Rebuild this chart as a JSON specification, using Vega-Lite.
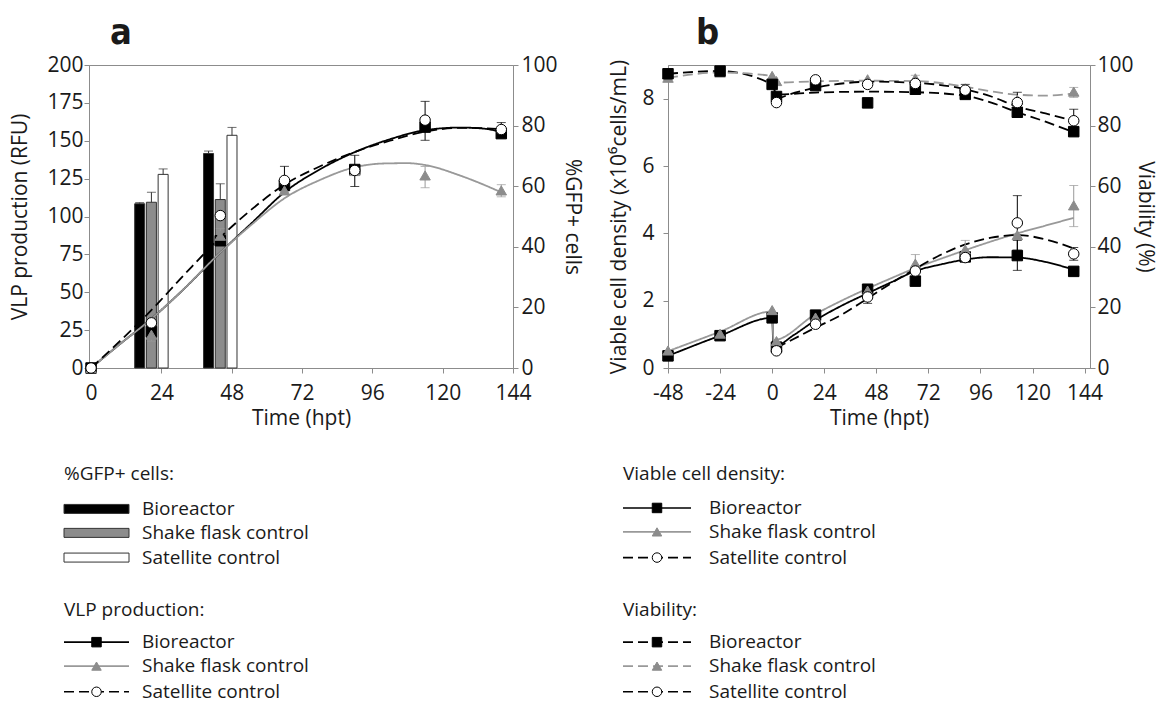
{
"$schema": "https://vega.github.io/schema/vega-lite/v6.json",
"background": "white",
"padding": {"left": 9, "top": 14, "right": 0, "bottom": 0},
"config": {
 "font": "Open Sans",
 "view": {"stroke": "#8c8c8c"},
 "axis": {"grid": false, "domainColor": "#8c8c8c", "tickColor": "#8c8c8c", "tickSize": 5, "labelFontSize": 21, "titleFontSize": 21, "labelColor": "#1a1a1a", "titleColor": "#1a1a1a", "titleFontWeight": "normal", "labelFont": "Open Sans", "titleFont": "Open Sans", "labelFlush": false, "labelOverlap": false},
 "legend": {"disable": true},
 "text": {"font": "Open Sans", "color": "#1a1a1a", "fontSize": 19}
},
"datasets": {
 "gfp": [
  {"series": "Bioreactor", "t": 16.6, "v": 54.2, "hi": 54.6},
  {"series": "Shake flask control", "t": 20.6, "v": 54.7, "hi": 58},
  {"series": "Satellite control", "t": 24.6, "v": 63.9, "hi": 65.7},
  {"series": "Bioreactor", "t": 40.1, "v": 70.8, "hi": 71.6},
  {"series": "Shake flask control", "t": 44.1, "v": 55.6, "hi": 60.8},
  {"series": "Satellite control", "t": 48.1, "v": 76.8, "hi": 79.4}
 ],
 "vlpCurve": [
  {"series": "Bioreactor", "t": 0, "v": 0}, {"series": "Bioreactor", "t": 10, "v": 16}, {"series": "Bioreactor", "t": 20, "v": 31.5}, {"series": "Bioreactor", "t": 30, "v": 49}, {"series": "Bioreactor", "t": 44, "v": 76}, {"series": "Bioreactor", "t": 55, "v": 96}, {"series": "Bioreactor", "t": 66, "v": 116}, {"series": "Bioreactor", "t": 78, "v": 131}, {"series": "Bioreactor", "t": 90, "v": 142.5}, {"series": "Bioreactor", "t": 102, "v": 151}, {"series": "Bioreactor", "t": 114, "v": 157}, {"series": "Bioreactor", "t": 126, "v": 158.7}, {"series": "Bioreactor", "t": 134, "v": 158}, {"series": "Bioreactor", "t": 140.5, "v": 155.5},
  {"series": "Shake flask control", "t": 0, "v": 0}, {"series": "Shake flask control", "t": 10, "v": 16}, {"series": "Shake flask control", "t": 20, "v": 31.5}, {"series": "Shake flask control", "t": 30, "v": 49}, {"series": "Shake flask control", "t": 44, "v": 76}, {"series": "Shake flask control", "t": 55, "v": 95}, {"series": "Shake flask control", "t": 66, "v": 112}, {"series": "Shake flask control", "t": 78, "v": 124}, {"series": "Shake flask control", "t": 90, "v": 132.5}, {"series": "Shake flask control", "t": 100, "v": 135}, {"series": "Shake flask control", "t": 108, "v": 135.2}, {"series": "Shake flask control", "t": 114, "v": 134}, {"series": "Shake flask control", "t": 126, "v": 127}, {"series": "Shake flask control", "t": 134, "v": 121}, {"series": "Shake flask control", "t": 140.5, "v": 115.5},
  {"series": "Satellite control", "t": 0, "v": 0}, {"series": "Satellite control", "t": 10, "v": 18}, {"series": "Satellite control", "t": 20, "v": 37}, {"series": "Satellite control", "t": 32, "v": 62}, {"series": "Satellite control", "t": 44, "v": 86}, {"series": "Satellite control", "t": 55, "v": 105}, {"series": "Satellite control", "t": 66, "v": 121}, {"series": "Satellite control", "t": 78, "v": 133}, {"series": "Satellite control", "t": 90, "v": 142.6}, {"series": "Satellite control", "t": 102, "v": 150}, {"series": "Satellite control", "t": 114, "v": 156}, {"series": "Satellite control", "t": 126, "v": 158.5}, {"series": "Satellite control", "t": 134, "v": 158.3}, {"series": "Satellite control", "t": 140.5, "v": 157.5}
 ],
 "vlpPts": [
  {"series": "Bioreactor", "t": 0, "v": 0}, {"series": "Bioreactor", "t": 20.6, "v": 24}, {"series": "Bioreactor", "t": 44.1, "v": 84}, {"series": "Bioreactor", "t": 66, "v": 120.5}, {"series": "Bioreactor", "t": 90, "v": 131}, {"series": "Bioreactor", "t": 114, "v": 159}, {"series": "Bioreactor", "t": 140, "v": 154.7},
  {"series": "Shake flask control", "t": 0, "v": 0}, {"series": "Shake flask control", "t": 20.6, "v": 22, "lo": 17.7, "hi": 26.5}, {"series": "Shake flask control", "t": 44.1, "v": 87.3, "lo": 81, "hi": 92}, {"series": "Shake flask control", "t": 66, "v": 117.2}, {"series": "Shake flask control", "t": 90, "v": 130}, {"series": "Shake flask control", "t": 114, "v": 127.1, "lo": 119, "hi": 133}, {"series": "Shake flask control", "t": 140, "v": 117.2, "lo": 113, "hi": 121},
  {"series": "Satellite control", "t": 0, "v": 0}, {"series": "Satellite control", "t": 20.6, "v": 29.8}, {"series": "Satellite control", "t": 44.1, "v": 100.6}, {"series": "Satellite control", "t": 66, "v": 123.8, "lo": 117, "hi": 133.1}, {"series": "Satellite control", "t": 90, "v": 130.4, "lo": 119.8, "hi": 140.4}, {"series": "Satellite control", "t": 114, "v": 163.6, "lo": 150.3, "hi": 176}, {"series": "Satellite control", "t": 140, "v": 157.4, "lo": 152.5, "hi": 162}
 ],
 "vcdLine": [
  {"series": "Bioreactor", "t": -48, "v": 0.36}, {"series": "Bioreactor", "t": -24, "v": 0.96}, {"series": "Bioreactor", "t": 0, "v": 1.49}, {"series": "Bioreactor", "t": 0.6, "v": 0.63}, {"series": "Bioreactor", "t": 10, "v": 0.98}, {"series": "Bioreactor", "t": 20, "v": 1.42}, {"series": "Bioreactor", "t": 32, "v": 1.85}, {"series": "Bioreactor", "t": 44, "v": 2.22}, {"series": "Bioreactor", "t": 55, "v": 2.55}, {"series": "Bioreactor", "t": 66, "v": 2.88}, {"series": "Bioreactor", "t": 78, "v": 3.08}, {"series": "Bioreactor", "t": 89, "v": 3.22}, {"series": "Bioreactor", "t": 100, "v": 3.29}, {"series": "Bioreactor", "t": 113, "v": 3.28}, {"series": "Bioreactor", "t": 126, "v": 3.15}, {"series": "Bioreactor", "t": 139, "v": 2.92},
  {"series": "Shake flask control", "t": -48, "v": 0.5}, {"series": "Shake flask control", "t": -24, "v": 1.08}, {"series": "Shake flask control", "t": 0, "v": 1.68}, {"series": "Shake flask control", "t": 0.6, "v": 0.83}, {"series": "Shake flask control", "t": 20, "v": 1.6}, {"series": "Shake flask control", "t": 32, "v": 2.0}, {"series": "Shake flask control", "t": 44, "v": 2.36}, {"series": "Shake flask control", "t": 55, "v": 2.67}, {"series": "Shake flask control", "t": 66, "v": 2.97}, {"series": "Shake flask control", "t": 78, "v": 3.25}, {"series": "Shake flask control", "t": 89, "v": 3.5}, {"series": "Shake flask control", "t": 101, "v": 3.76}, {"series": "Shake flask control", "t": 113, "v": 4.0}, {"series": "Shake flask control", "t": 126, "v": 4.23}, {"series": "Shake flask control", "t": 139, "v": 4.46},
  {"series": "Satellite control", "t": 2, "v": 0.6}, {"series": "Satellite control", "t": 9, "v": 0.83}, {"series": "Satellite control", "t": 20, "v": 1.2}, {"series": "Satellite control", "t": 32, "v": 1.58}, {"series": "Satellite control", "t": 40, "v": 1.9}, {"series": "Satellite control", "t": 52, "v": 2.4}, {"series": "Satellite control", "t": 66, "v": 2.95}, {"series": "Satellite control", "t": 78, "v": 3.37}, {"series": "Satellite control", "t": 89, "v": 3.67}, {"series": "Satellite control", "t": 101, "v": 3.87}, {"series": "Satellite control", "t": 113, "v": 3.95}, {"series": "Satellite control", "t": 126, "v": 3.82}, {"series": "Satellite control", "t": 139, "v": 3.55}
 ],
 "vcdPts": [
  {"series": "Bioreactor", "t": -48, "v": 0.36}, {"series": "Bioreactor", "t": -24, "v": 0.96}, {"series": "Bioreactor", "t": 0, "v": 1.49}, {"series": "Bioreactor", "t": 2, "v": 0.62}, {"series": "Bioreactor", "t": 20, "v": 1.57}, {"series": "Bioreactor", "t": 44, "v": 2.34}, {"series": "Bioreactor", "t": 66, "v": 2.58}, {"series": "Bioreactor", "t": 89, "v": 3.3}, {"series": "Bioreactor", "t": 113, "v": 3.34, "lo": 2.9, "hi": 3.79}, {"series": "Bioreactor", "t": 139, "v": 2.87},
  {"series": "Shake flask control", "t": -48, "v": 0.52}, {"series": "Shake flask control", "t": -24, "v": 1.02}, {"series": "Shake flask control", "t": 0, "v": 1.72}, {"series": "Shake flask control", "t": 2, "v": 0.8}, {"series": "Shake flask control", "t": 20, "v": 1.5}, {"series": "Shake flask control", "t": 44, "v": 2.3}, {"series": "Shake flask control", "t": 66, "v": 3.1, "lo": 2.83, "hi": 3.37}, {"series": "Shake flask control", "t": 89, "v": 3.52, "lo": 3.25, "hi": 3.79}, {"series": "Shake flask control", "t": 113, "v": 3.95}, {"series": "Shake flask control", "t": 139, "v": 4.83, "lo": 4.2, "hi": 5.42},
  {"series": "Satellite control", "t": 2, "v": 0.51}, {"series": "Satellite control", "t": 20, "v": 1.3}, {"series": "Satellite control", "t": 44, "v": 2.11, "lo": 1.92, "hi": 2.3}, {"series": "Satellite control", "t": 66, "v": 2.88}, {"series": "Satellite control", "t": 89, "v": 3.28, "lo": 3.18, "hi": 3.38}, {"series": "Satellite control", "t": 113, "v": 4.31, "lo": 3.5, "hi": 5.12}, {"series": "Satellite control", "t": 139, "v": 3.39, "lo": 3.2, "hi": 3.58}
 ],
 "viaLine": [
  {"series": "Bioreactor", "t": -48, "v": 97.1}, {"series": "Bioreactor", "t": -24, "v": 98.0}, {"series": "Bioreactor", "t": 0, "v": 93.6}, {"series": "Bioreactor", "t": 2, "v": 90.3}, {"series": "Bioreactor", "t": 20, "v": 90.9}, {"series": "Bioreactor", "t": 44, "v": 91.2}, {"series": "Bioreactor", "t": 66, "v": 91.0}, {"series": "Bioreactor", "t": 89, "v": 89.9}, {"series": "Bioreactor", "t": 101, "v": 87.6}, {"series": "Bioreactor", "t": 113, "v": 84.4}, {"series": "Bioreactor", "t": 126, "v": 81.3}, {"series": "Bioreactor", "t": 139, "v": 77.8},
  {"series": "Shake flask control", "t": -48, "v": 95.8}, {"series": "Shake flask control", "t": -24, "v": 97.5}, {"series": "Shake flask control", "t": 0, "v": 96.4}, {"series": "Shake flask control", "t": 2, "v": 94.2}, {"series": "Shake flask control", "t": 20, "v": 94.6}, {"series": "Shake flask control", "t": 44, "v": 94.8}, {"series": "Shake flask control", "t": 66, "v": 94.7}, {"series": "Shake flask control", "t": 89, "v": 92.8}, {"series": "Shake flask control", "t": 101, "v": 91.3}, {"series": "Shake flask control", "t": 113, "v": 90.2}, {"series": "Shake flask control", "t": 126, "v": 89.9}, {"series": "Shake flask control", "t": 139, "v": 90.6},
  {"series": "Satellite control", "t": 2, "v": 88.6}, {"series": "Satellite control", "t": 8, "v": 90.3}, {"series": "Satellite control", "t": 17, "v": 92}, {"series": "Satellite control", "t": 29, "v": 93.6}, {"series": "Satellite control", "t": 46, "v": 94.5}, {"series": "Satellite control", "t": 64, "v": 94.2}, {"series": "Satellite control", "t": 89, "v": 92.0}, {"series": "Satellite control", "t": 101, "v": 89.6}, {"series": "Satellite control", "t": 113, "v": 86.3}, {"series": "Satellite control", "t": 126, "v": 84.0}, {"series": "Satellite control", "t": 139, "v": 81.6}
 ],
 "viaPts": [
  {"series": "Shake flask control", "t": -48, "v": 95.8}, {"series": "Shake flask control", "t": -24, "v": 97.5}, {"series": "Shake flask control", "t": 0, "v": 96.4}, {"series": "Shake flask control", "t": 2, "v": 94.7}, {"series": "Shake flask control", "t": 20, "v": 95.0}, {"series": "Shake flask control", "t": 44, "v": 95.3}, {"series": "Shake flask control", "t": 66, "v": 95.6, "lo": 94.5, "hi": 96.6}, {"series": "Shake flask control", "t": 89, "v": 92.3}, {"series": "Shake flask control", "t": 113, "v": 88.5}, {"series": "Shake flask control", "t": 139, "v": 91.2, "lo": 89.3, "hi": 92.6},
  {"series": "Bioreactor", "t": -48, "v": 97.1}, {"series": "Bioreactor", "t": -24, "v": 98.0}, {"series": "Bioreactor", "t": 0, "v": 93.6}, {"series": "Bioreactor", "t": 2, "v": 89.6}, {"series": "Bioreactor", "t": 20, "v": 93.2}, {"series": "Bioreactor", "t": 44, "v": 87.5}, {"series": "Bioreactor", "t": 66, "v": 92.0}, {"series": "Bioreactor", "t": 89, "v": 90.3}, {"series": "Bioreactor", "t": 113, "v": 84.4}, {"series": "Bioreactor", "t": 139, "v": 78.0},
  {"series": "Satellite control", "t": 2, "v": 87.6}, {"series": "Satellite control", "t": 20, "v": 95.1}, {"series": "Satellite control", "t": 44, "v": 93.6}, {"series": "Satellite control", "t": 66, "v": 93.9}, {"series": "Satellite control", "t": 89, "v": 91.7, "lo": 90.0, "hi": 93.6}, {"series": "Satellite control", "t": 113, "v": 87.6, "lo": 84.2, "hi": 91.0}, {"series": "Satellite control", "t": 139, "v": 81.6, "lo": 77.8, "hi": 85.4}
 ],
 "legA": [
  {"row": 0, "label": "%GFP+ cells:", "kind": "head"},
  {"row": 1.42, "label": "Bioreactor", "kind": "bar", "series": "Bioreactor"},
  {"row": 2.4, "label": "Shake flask control", "kind": "bar", "series": "Shake flask control"},
  {"row": 3.41, "label": "Satellite control", "kind": "bar", "series": "Satellite control"},
  {"row": 5.57, "label": "VLP production:", "kind": "head"},
  {"row": 6.87, "label": "Bioreactor", "kind": "line", "series": "Bioreactor"},
  {"row": 7.85, "label": "Shake flask control", "kind": "line", "series": "Shake flask control"},
  {"row": 8.9, "label": "Satellite control", "kind": "line", "series": "Satellite control"}
 ],
 "legB": [
  {"row": 0, "label": "Viable cell density:", "kind": "head"},
  {"row": 1.38, "label": "Bioreactor", "kind": "vcd", "series": "Bioreactor"},
  {"row": 2.36, "label": "Shake flask control", "kind": "vcd", "series": "Shake flask control"},
  {"row": 3.41, "label": "Satellite control", "kind": "vcd", "series": "Satellite control"},
  {"row": 5.57, "label": "Viability:", "kind": "head"},
  {"row": 6.87, "label": "Bioreactor", "kind": "via", "series": "Bioreactor"},
  {"row": 7.85, "label": "Shake flask control", "kind": "via", "series": "Shake flask control"},
  {"row": 8.9, "label": "Satellite control", "kind": "via", "series": "Satellite control"}
 ]
},
"spacing": 25,
"hconcat": [
 {"spacing": 33, "vconcat": [
  {
   "width": 424, "height": 303,
   "title": {"text": "a", "anchor": "start", "frame": "group", "dx": 21, "offset": 2, "fontSize": 36, "fontWeight": "bold", "font": "DejaVu Sans Condensed, Liberation Sans Narrow, sans-serif", "color": "#1a1a1a"},
   "encoding": {"x": {"field": "t", "type": "quantitative", "scale": {"domain": [-0.7, 144], "nice": false, "zero": false, "padding": 0}, "title": "Time (hpt)", "axis": {"values": [0, 24, 48, 72, 96, 120, 144], "labelPadding": 9, "titlePadding": 4}}},
   "resolve": {"scale": {"y": "independent"}},
   "layer": [
    {"data": {"name": "gfp"},
     "layer": [
      {"mark": {"type": "bar", "width": 10, "stroke": "#333333", "strokeWidth": 1},
       "encoding": {"y": {"field": "v", "type": "quantitative", "scale": {"domain": [0, 100], "nice": false}, "title": "%GFP+ cells", "axis": {"orient": "right", "values": [0, 20, 40, 60, 80, 100], "titlePadding": 4, "labelPadding": 3}},
        "fill": {"field": "series", "type": "nominal", "scale": {"domain": ["Bioreactor", "Shake flask control", "Satellite control"], "range": ["#000000", "#8c8c8c", "#ffffff"]}, "legend": null}}},
      {"mark": {"type": "rule", "color": "#333333", "strokeWidth": 1},
       "encoding": {"y": {"field": "v", "type": "quantitative", "scale": {"domain": [0, 100], "nice": false}, "title": "%GFP+ cells", "axis": {"orient": "right", "values": [0, 20, 40, 60, 80, 100], "titlePadding": 4, "labelPadding": 3}}, "y2": {"field": "hi"}}},
      {"mark": {"type": "tick", "orient": "horizontal", "size": 9, "thickness": 1, "color": "#333333"},
       "encoding": {"y": {"field": "hi", "type": "quantitative", "scale": {"domain": [0, 100], "nice": false}, "title": "%GFP+ cells", "axis": {"orient": "right", "values": [0, 20, 40, 60, 80, 100], "titlePadding": 4, "labelPadding": 3}}}}
     ]},
    {"layer": [
      {"data": {"name": "vlpCurve"},
       "mark": {"type": "line", "interpolate": "monotone", "strokeWidth": 1.8},
       "encoding": {"y": {"field": "v", "type": "quantitative", "scale": {"domain": [0, 200], "nice": false}, "title": "VLP production (RFU)", "axis": {"orient": "left", "values": [0, 25, 50, 75, 100, 125, 150, 175, 200], "titlePadding": 16, "labelPadding": 1}},
        "color": {"field": "series", "type": "nominal", "scale": {"domain": ["Bioreactor", "Shake flask control", "Satellite control"], "range": ["#000000", "#999999", "#000000"]}, "legend": null},
        "strokeDash": {"field": "series", "type": "nominal", "scale": {"domain": ["Bioreactor", "Shake flask control", "Satellite control"], "range": [[1, 0], [1, 0], [10, 5]]}, "legend": null}}},
      {"data": {"name": "vlpPts"}, "transform": [{"filter": "isValid(datum.hi)"}],
       "mark": {"type": "rule", "strokeWidth": 1},
       "encoding": {"y": {"field": "lo", "type": "quantitative", "scale": {"domain": [0, 200], "nice": false}, "title": "VLP production (RFU)", "axis": {"orient": "left", "values": [0, 25, 50, 75, 100, 125, 150, 175, 200], "titlePadding": 16, "labelPadding": 1}}, "y2": {"field": "hi"},
        "color": {"field": "series", "type": "nominal", "scale": {"domain": ["Bioreactor", "Shake flask control", "Satellite control"], "range": ["#000000", "#999999", "#000000"]}, "legend": null}}},
      {"data": {"name": "vlpPts"}, "transform": [{"filter": "isValid(datum.hi)"}],
       "mark": {"type": "tick", "orient": "horizontal", "size": 9, "thickness": 1},
       "encoding": {"y": {"field": "hi", "type": "quantitative", "scale": {"domain": [0, 200], "nice": false}, "title": "VLP production (RFU)", "axis": {"orient": "left", "values": [0, 25, 50, 75, 100, 125, 150, 175, 200], "titlePadding": 16, "labelPadding": 1}},
        "color": {"field": "series", "type": "nominal", "scale": {"domain": ["Bioreactor", "Shake flask control", "Satellite control"], "range": ["#000000", "#999999", "#000000"]}, "legend": null}}},
      {"data": {"name": "vlpPts"}, "transform": [{"filter": "isValid(datum.lo)"}],
       "mark": {"type": "tick", "orient": "horizontal", "size": 9, "thickness": 1},
       "encoding": {"y": {"field": "lo", "type": "quantitative", "scale": {"domain": [0, 200], "nice": false}, "title": "VLP production (RFU)", "axis": {"orient": "left", "values": [0, 25, 50, 75, 100, 125, 150, 175, 200], "titlePadding": 16, "labelPadding": 1}},
        "color": {"field": "series", "type": "nominal", "scale": {"domain": ["Bioreactor", "Shake flask control", "Satellite control"], "range": ["#000000", "#999999", "#000000"]}, "legend": null}}},
      {"data": {"name": "vlpPts"},
       "mark": {"type": "point", "filled": true, "size": 110, "opacity": 1, "strokeWidth": 1},
       "encoding": {"y": {"field": "v", "type": "quantitative", "scale": {"domain": [0, 200], "nice": false}, "title": "VLP production (RFU)", "axis": {"orient": "left", "values": [0, 25, 50, 75, 100, 125, 150, 175, 200], "titlePadding": 16, "labelPadding": 1}},
        "shape": {"field": "series", "type": "nominal", "scale": {"domain": ["Bioreactor", "Shake flask control", "Satellite control"], "range": ["square", "triangle-up", "circle"]}, "legend": null},
        "fill": {"field": "series", "type": "nominal", "scale": {"domain": ["Bioreactor", "Shake flask control", "Satellite control"], "range": ["#000000", "#8c8c8c", "#ffffff"]}, "legend": null},
        "stroke": {"field": "series", "type": "nominal", "scale": {"domain": ["Bioreactor", "Shake flask control", "Satellite control"], "range": ["#000000", "#8c8c8c", "#000000"]}, "legend": null}}}
    ]}
   ]
  },
  {
   "width": 305, "height": 242,
   "view": {"stroke": null},
   "data": {"name": "legA"},
   "encoding": {"y": {"field": "row", "type": "quantitative", "scale": {"domain": [-0.5, 9.4], "reverse": true, "nice": false, "zero": false, "padding": 0}, "axis": null}},
   "layer": [
    {"transform": [{"filter": "datum.kind == 'head'"}], "mark": {"type": "text", "align": "left", "baseline": "middle", "fontSize": 19},
     "encoding": {"x": {"datum": 0, "type": "quantitative", "scale": {"domain": [0.5, 6.6], "nice": false, "zero": false}, "axis": null}, "text": {"field": "label"}}},
    {"transform": [{"filter": "datum.kind != 'head'"}], "mark": {"type": "text", "align": "left", "baseline": "middle", "fontSize": 19},
     "encoding": {"x": {"datum": 1.56, "type": "quantitative", "scale": {"domain": [0.5, 6.6], "nice": false, "zero": false}, "axis": null}, "text": {"field": "label"}}},
    {"transform": [{"filter": "datum.kind == 'bar'"}], "mark": {"type": "bar", "height": 9, "stroke": "#333333", "strokeWidth": 1},
     "encoding": {"x": {"datum": 0, "type": "quantitative", "scale": {"domain": [0.5, 6.6], "nice": false, "zero": false}, "axis": null}, "x2": {"datum": 1.3},
      "fill": {"field": "series", "type": "nominal", "scale": {"domain": ["Bioreactor", "Shake flask control", "Satellite control"], "range": ["#000000", "#8c8c8c", "#ffffff"]}, "legend": null}}},
    {"transform": [{"filter": "datum.kind == 'line'"}], "mark": {"type": "rule", "strokeWidth": 1.6},
     "encoding": {"x": {"datum": 0, "type": "quantitative", "scale": {"domain": [0.5, 6.6], "nice": false, "zero": false}, "axis": null}, "x2": {"datum": 1.3},
      "color": {"field": "series", "type": "nominal", "scale": {"domain": ["Bioreactor", "Shake flask control", "Satellite control"], "range": ["#000000", "#999999", "#000000"]}, "legend": null},
      "strokeDash": {"field": "series", "type": "nominal", "scale": {"domain": ["Bioreactor", "Shake flask control", "Satellite control"], "range": [[1, 0], [1, 0], [10, 5]]}, "legend": null}}},
    {"transform": [{"filter": "datum.kind == 'line'"}], "mark": {"type": "point", "filled": true, "size": 90, "opacity": 1, "strokeWidth": 1},
     "encoding": {"x": {"datum": 0.65, "type": "quantitative", "scale": {"domain": [0.5, 6.6], "nice": false, "zero": false}, "axis": null},
      "shape": {"field": "series", "type": "nominal", "scale": {"domain": ["Bioreactor", "Shake flask control", "Satellite control"], "range": ["square", "triangle-up", "circle"]}, "legend": null},
      "fill": {"field": "series", "type": "nominal", "scale": {"domain": ["Bioreactor", "Shake flask control", "Satellite control"], "range": ["#000000", "#8c8c8c", "#ffffff"]}, "legend": null},
      "stroke": {"field": "series", "type": "nominal", "scale": {"domain": ["Bioreactor", "Shake flask control", "Satellite control"], "range": ["#000000", "#8c8c8c", "#000000"]}, "legend": null}}}
   ]
  }
 ]},
 {"spacing": 33, "vconcat": [
  {
   "width": 422, "height": 303,
   "title": {"text": "b", "anchor": "start", "frame": "group", "dx": 28, "offset": 2, "fontSize": 36, "fontWeight": "bold", "font": "DejaVu Sans Condensed, Liberation Sans Narrow, sans-serif", "color": "#1a1a1a"},
   "encoding": {"x": {"field": "t", "type": "quantitative", "scale": {"domain": [-48, 146.5], "nice": false, "zero": false, "padding": 0}, "title": "Time (hpt)", "axis": {"values": [-48, -24, 0, 24, 48, 72, 96, 120, 144], "labelExpr": "'' + datum.value", "labelPadding": 9, "titlePadding": 4}}},
   "resolve": {"scale": {"y": "independent"}},
   "layer": [
    {"layer": [
      {"data": {"name": "vcdLine"},
       "mark": {"type": "line", "interpolate": "monotone", "strokeWidth": 1.8},
       "encoding": {"y": {"field": "v", "type": "quantitative", "scale": {"domain": [0, 9], "nice": false}, "title": "Viable cell density (x10⁶cells/mL)", "axis": {"orient": "left", "values": [0, 2, 4, 6, 8], "titlePadding": 12, "labelPadding": 9}},
        "color": {"field": "series", "type": "nominal", "scale": {"domain": ["Bioreactor", "Shake flask control", "Satellite control"], "range": ["#000000", "#999999", "#000000"]}, "legend": null},
        "strokeDash": {"field": "series", "type": "nominal", "scale": {"domain": ["Bioreactor", "Shake flask control", "Satellite control"], "range": [[1, 0], [1, 0], [10, 5]]}, "legend": null}}},
      {"data": {"name": "vcdPts"}, "transform": [{"filter": "isValid(datum.hi)"}],
       "mark": {"type": "rule", "strokeWidth": 1},
       "encoding": {"y": {"field": "lo", "type": "quantitative", "scale": {"domain": [0, 9], "nice": false}, "title": "Viable cell density (x10⁶cells/mL)", "axis": {"orient": "left", "values": [0, 2, 4, 6, 8], "titlePadding": 12, "labelPadding": 9}}, "y2": {"field": "hi"},
        "color": {"field": "series", "type": "nominal", "scale": {"domain": ["Bioreactor", "Shake flask control", "Satellite control"], "range": ["#000000", "#999999", "#000000"]}, "legend": null}}},
      {"data": {"name": "vcdPts"}, "transform": [{"filter": "isValid(datum.hi)"}],
       "mark": {"type": "tick", "orient": "horizontal", "size": 9, "thickness": 1},
       "encoding": {"y": {"field": "hi", "type": "quantitative", "scale": {"domain": [0, 9], "nice": false}, "title": "Viable cell density (x10⁶cells/mL)", "axis": {"orient": "left", "values": [0, 2, 4, 6, 8], "titlePadding": 12, "labelPadding": 9}},
        "color": {"field": "series", "type": "nominal", "scale": {"domain": ["Bioreactor", "Shake flask control", "Satellite control"], "range": ["#000000", "#999999", "#000000"]}, "legend": null}}},
      {"data": {"name": "vcdPts"}, "transform": [{"filter": "isValid(datum.lo)"}],
       "mark": {"type": "tick", "orient": "horizontal", "size": 9, "thickness": 1},
       "encoding": {"y": {"field": "lo", "type": "quantitative", "scale": {"domain": [0, 9], "nice": false}, "title": "Viable cell density (x10⁶cells/mL)", "axis": {"orient": "left", "values": [0, 2, 4, 6, 8], "titlePadding": 12, "labelPadding": 9}},
        "color": {"field": "series", "type": "nominal", "scale": {"domain": ["Bioreactor", "Shake flask control", "Satellite control"], "range": ["#000000", "#999999", "#000000"]}, "legend": null}}},
      {"data": {"name": "vcdPts"},
       "mark": {"type": "point", "filled": true, "size": 110, "opacity": 1, "strokeWidth": 1},
       "encoding": {"y": {"field": "v", "type": "quantitative", "scale": {"domain": [0, 9], "nice": false}, "title": "Viable cell density (x10⁶cells/mL)", "axis": {"orient": "left", "values": [0, 2, 4, 6, 8], "titlePadding": 12, "labelPadding": 9}},
        "shape": {"field": "series", "type": "nominal", "scale": {"domain": ["Bioreactor", "Shake flask control", "Satellite control"], "range": ["square", "triangle-up", "circle"]}, "legend": null},
        "fill": {"field": "series", "type": "nominal", "scale": {"domain": ["Bioreactor", "Shake flask control", "Satellite control"], "range": ["#000000", "#8c8c8c", "#ffffff"]}, "legend": null},
        "stroke": {"field": "series", "type": "nominal", "scale": {"domain": ["Bioreactor", "Shake flask control", "Satellite control"], "range": ["#000000", "#8c8c8c", "#000000"]}, "legend": null}}}
    ]},
    {"layer": [
      {"data": {"name": "viaLine"},
       "mark": {"type": "line", "interpolate": "monotone", "strokeWidth": 1.8, "strokeDash": [10, 5]},
       "encoding": {"y": {"field": "v", "type": "quantitative", "scale": {"domain": [0, 100], "nice": false}, "title": "Viability (%)", "axis": {"orient": "right", "values": [0, 20, 40, 60, 80, 100], "titlePadding": 1, "labelPadding": 2}},
        "color": {"field": "series", "type": "nominal", "scale": {"domain": ["Bioreactor", "Shake flask control", "Satellite control"], "range": ["#000000", "#999999", "#000000"]}, "legend": null}}},
      {"data": {"name": "viaPts"}, "transform": [{"filter": "isValid(datum.hi)"}],
       "mark": {"type": "rule", "strokeWidth": 1},
       "encoding": {"y": {"field": "lo", "type": "quantitative", "scale": {"domain": [0, 100], "nice": false}, "title": "Viability (%)", "axis": {"orient": "right", "values": [0, 20, 40, 60, 80, 100], "titlePadding": 1, "labelPadding": 2}}, "y2": {"field": "hi"},
        "color": {"field": "series", "type": "nominal", "scale": {"domain": ["Bioreactor", "Shake flask control", "Satellite control"], "range": ["#000000", "#999999", "#000000"]}, "legend": null}}},
      {"data": {"name": "viaPts"}, "transform": [{"filter": "isValid(datum.hi)"}],
       "mark": {"type": "tick", "orient": "horizontal", "size": 9, "thickness": 1},
       "encoding": {"y": {"field": "hi", "type": "quantitative", "scale": {"domain": [0, 100], "nice": false}, "title": "Viability (%)", "axis": {"orient": "right", "values": [0, 20, 40, 60, 80, 100], "titlePadding": 1, "labelPadding": 2}},
        "color": {"field": "series", "type": "nominal", "scale": {"domain": ["Bioreactor", "Shake flask control", "Satellite control"], "range": ["#000000", "#999999", "#000000"]}, "legend": null}}},
      {"data": {"name": "viaPts"}, "transform": [{"filter": "isValid(datum.lo)"}],
       "mark": {"type": "tick", "orient": "horizontal", "size": 9, "thickness": 1},
       "encoding": {"y": {"field": "lo", "type": "quantitative", "scale": {"domain": [0, 100], "nice": false}, "title": "Viability (%)", "axis": {"orient": "right", "values": [0, 20, 40, 60, 80, 100], "titlePadding": 1, "labelPadding": 2}},
        "color": {"field": "series", "type": "nominal", "scale": {"domain": ["Bioreactor", "Shake flask control", "Satellite control"], "range": ["#000000", "#999999", "#000000"]}, "legend": null}}},
      {"data": {"name": "viaPts"},
       "mark": {"type": "point", "filled": true, "size": 110, "opacity": 1, "strokeWidth": 1},
       "encoding": {"y": {"field": "v", "type": "quantitative", "scale": {"domain": [0, 100], "nice": false}, "title": "Viability (%)", "axis": {"orient": "right", "values": [0, 20, 40, 60, 80, 100], "titlePadding": 1, "labelPadding": 2}},
        "shape": {"field": "series", "type": "nominal", "scale": {"domain": ["Bioreactor", "Shake flask control", "Satellite control"], "range": ["square", "triangle-up", "circle"]}, "legend": null},
        "fill": {"field": "series", "type": "nominal", "scale": {"domain": ["Bioreactor", "Shake flask control", "Satellite control"], "range": ["#000000", "#8c8c8c", "#ffffff"]}, "legend": null},
        "stroke": {"field": "series", "type": "nominal", "scale": {"domain": ["Bioreactor", "Shake flask control", "Satellite control"], "range": ["#000000", "#8c8c8c", "#000000"]}, "legend": null}}}
    ]}
   ]
  },
  {
   "width": 286, "height": 242,
   "view": {"stroke": null},
   "data": {"name": "legB"},
   "encoding": {"y": {"field": "row", "type": "quantitative", "scale": {"domain": [-0.5, 9.4], "reverse": true, "nice": false, "zero": false, "padding": 0}, "axis": null}},
   "layer": [
    {"transform": [{"filter": "datum.kind == 'head'"}], "mark": {"type": "text", "align": "left", "baseline": "middle", "fontSize": 19},
     "encoding": {"x": {"datum": 0, "type": "quantitative", "scale": {"domain": [0.9, 6.62], "nice": false, "zero": false}, "axis": null}, "text": {"field": "label"}}},
    {"transform": [{"filter": "datum.kind != 'head'"}], "mark": {"type": "text", "align": "left", "baseline": "middle", "fontSize": 19},
     "encoding": {"x": {"datum": 1.72, "type": "quantitative", "scale": {"domain": [0.9, 6.62], "nice": false, "zero": false}, "axis": null}, "text": {"field": "label"}}},
    {"transform": [{"filter": "datum.kind == 'vcd'"}], "mark": {"type": "rule", "strokeWidth": 1.6},
     "encoding": {"x": {"datum": 0, "type": "quantitative", "scale": {"domain": [0.9, 6.62], "nice": false, "zero": false}, "axis": null}, "x2": {"datum": 1.36},
      "color": {"field": "series", "type": "nominal", "scale": {"domain": ["Bioreactor", "Shake flask control", "Satellite control"], "range": ["#000000", "#999999", "#000000"]}, "legend": null},
      "strokeDash": {"field": "series", "type": "nominal", "scale": {"domain": ["Bioreactor", "Shake flask control", "Satellite control"], "range": [[1, 0], [1, 0], [10, 5]]}, "legend": null}}},
    {"transform": [{"filter": "datum.kind == 'via'"}], "mark": {"type": "rule", "strokeWidth": 1.6, "strokeDash": [10, 5]},
     "encoding": {"x": {"datum": 0, "type": "quantitative", "scale": {"domain": [0.9, 6.62], "nice": false, "zero": false}, "axis": null}, "x2": {"datum": 1.36},
      "color": {"field": "series", "type": "nominal", "scale": {"domain": ["Bioreactor", "Shake flask control", "Satellite control"], "range": ["#000000", "#999999", "#000000"]}, "legend": null}}},
    {"transform": [{"filter": "datum.kind != 'head'"}], "mark": {"type": "point", "filled": true, "size": 90, "opacity": 1, "strokeWidth": 1},
     "encoding": {"x": {"datum": 0.68, "type": "quantitative", "scale": {"domain": [0.9, 6.62], "nice": false, "zero": false}, "axis": null},
      "shape": {"field": "series", "type": "nominal", "scale": {"domain": ["Bioreactor", "Shake flask control", "Satellite control"], "range": ["square", "triangle-up", "circle"]}, "legend": null},
      "fill": {"field": "series", "type": "nominal", "scale": {"domain": ["Bioreactor", "Shake flask control", "Satellite control"], "range": ["#000000", "#8c8c8c", "#ffffff"]}, "legend": null},
      "stroke": {"field": "series", "type": "nominal", "scale": {"domain": ["Bioreactor", "Shake flask control", "Satellite control"], "range": ["#000000", "#8c8c8c", "#000000"]}, "legend": null}}}
   ]
  }
 ]}
]
}
